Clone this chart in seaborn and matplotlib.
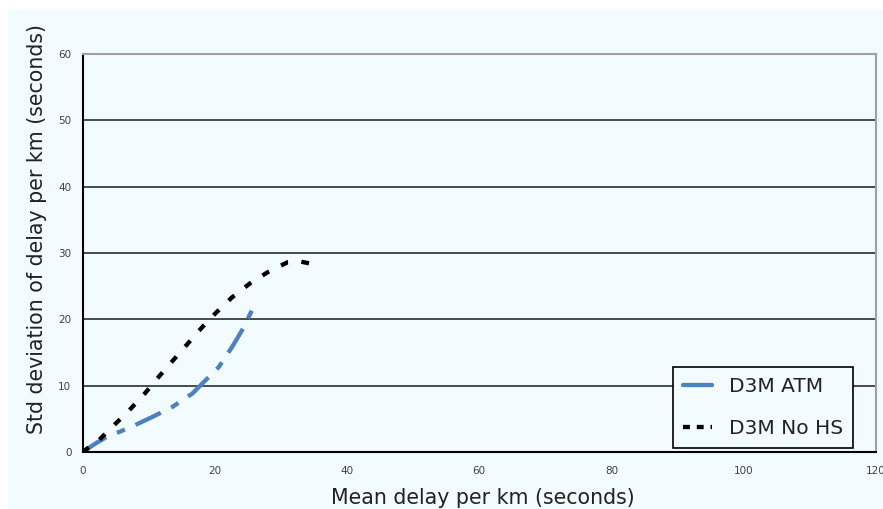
import numpy as np
import pandas as pd
import matplotlib
matplotlib.use("Agg")
import matplotlib.pyplot as plt
from matplotlib.lines import Line2D
from matplotlib.patches import Rectangle
import seaborn as sns

# ---- data ----
atm_x = [0.0, 2.0, 4.2, 5.5, 7.4, 10.6, 13.6, 16.6, 18.6, 20.6, 22.6, 24.1, 25.6]
atm_y = [0.0, 1.3, 2.6, 3.0, 3.8, 5.3, 6.8, 8.8, 10.8, 12.8, 15.8, 18.3, 21.3]
nohs_x = [0.0, 2.4, 4.4, 6.9, 9.4, 11.5, 13.6, 15.8, 18.0, 20.2, 22.6, 25.3, 28.0, 31.0, 33.0, 35.0]
nohs_y = [0.0, 1.7, 3.7, 6.1, 8.8, 11.3, 13.7, 16.2, 18.7, 21.0, 23.3, 25.4, 27.1, 28.6, 28.7, 28.3]
series_names = ["D3M ATM", "D3M No HS"]
x_ticks = [0, 20, 40, 60, 80, 100, 120]
y_ticks = [0, 10, 20, 30, 40, 50, 60]
x_label = "Mean delay per km (seconds)"
y_label = "Std deviation of delay per km (seconds)"

df = pd.concat([
    pd.DataFrame({"x": atm_x, "y": atm_y, "series": series_names[0]}),
    pd.DataFrame({"x": nohs_x, "y": nohs_y, "series": series_names[1]}),
], ignore_index=True)

BG = "#f2fbfe"
BLUE = "#4f81bd"

sns.set_theme(style="white")
plt.rcParams["font.family"] = ["DejaVu Sans"]

fig = plt.figure(figsize=(8.83, 5.09), dpi=100, facecolor="white")
fig.patches.append(Rectangle((8 / 883, 0), 1 - 8 / 883, 1 - 10 / 509,
                             transform=fig.transFigure, facecolor=BG,
                             edgecolor="none", zorder=-10))
ax = fig.add_axes([82.5 / 883, 1 - 452 / 509, (876 - 82.5) / 883, (452 - 54) / 509])
ax.set_facecolor(BG)

sns.lineplot(data=df, x="x", y="y", hue="series", style="series",
             hue_order=series_names, style_order=series_names,
             palette={series_names[0]: BLUE, series_names[1]: "black"},
             dashes={series_names[0]: (6.5, 2.7, 2.0, 2.7),
                     series_names[1]: (1.8, 3.1)},
             sort=False, estimator=None, linewidth=3.1, legend=False, ax=ax)

ax.set_xlim(0, 120)
ax.set_ylim(0, 60)
ax.set_xticks(x_ticks)
ax.set_yticks(y_ticks)
ax.tick_params(axis="both", which="major", labelsize=7.5, colors="black",
               labelcolor="#404040", length=3, width=1, direction="out")
ax.tick_params(axis="x", pad=7)
ax.tick_params(axis="y", pad=5)

for yv in y_ticks[1:-1]:
    ax.axhline(yv, color="#1a1a1a", lw=1.1, zorder=0)

for side in ["left", "bottom"]:
    ax.spines[side].set_color("black")
    ax.spines[side].set_linewidth(1.5)
for side in ["top", "right"]:
    ax.spines[side].set_color("#a0a0a0")
    ax.spines[side].set_linewidth(1.5)

ax.set_xlabel(x_label, fontsize=14.8, color="#222222")
ax.set_ylabel(y_label, fontsize=14.8, color="#222222")
ax.xaxis.set_label_coords(0.505, -0.0905)
ax.yaxis.set_label_coords(-0.0447, 0.56)

handles = [Line2D([], [], color=BLUE, lw=3.1),
           Line2D([], [], color="black", lw=3.1, dashes=(1.6, 1.6))]
leg = ax.legend(handles, series_names, loc="lower right",
                bbox_to_anchor=(0.971, 0.01), fontsize=14.5, frameon=True,
                fancybox=False, edgecolor="black", facecolor=BG, framealpha=1,
                handlelength=1.4, handletextpad=0.85, labelspacing=1.15,
                borderpad=0.5, borderaxespad=0)
leg.get_frame().set_linewidth(1.2)
for t in leg.get_texts():
    t.set_color("#222222")

fig.savefig("out.png", dpi=100, facecolor="white")
